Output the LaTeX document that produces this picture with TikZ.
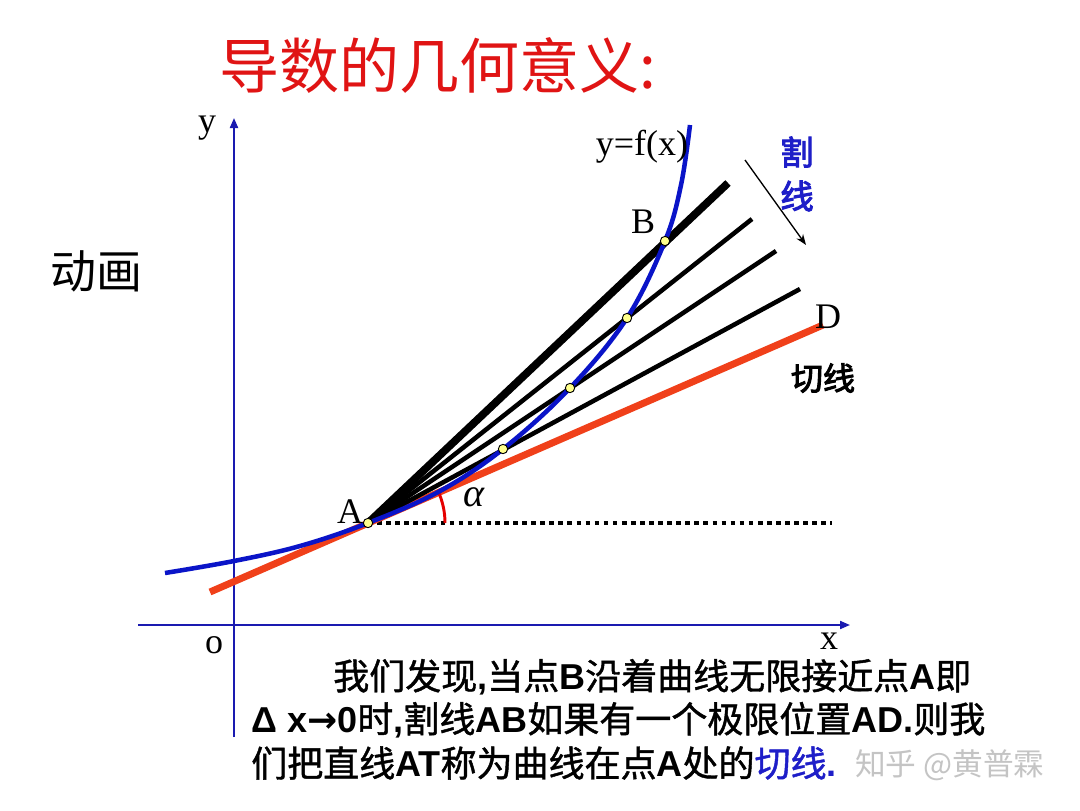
\documentclass[tikz,border=0pt]{standalone}
\usepackage{fontspec}
\setmainfont{Liberation Serif}
\newfontfamily\cjk{Noto Sans CJK SC}
\newfontfamily\hei{Noto Sans CJK SC}[FakeBold=1.2]
\newfontfamily\heib{Noto Sans CJK SC}[FakeBold=3]
\newfontfamily\arial{Liberation Sans}
\newfontfamily\dejab{DejaVu Sans}
\newcommand\en[1]{{\arial\bfseries #1}}
\usetikzlibrary{arrows.meta,calc}
\definecolor{axisblue}{HTML}{1A1AB0}
\definecolor{curveblue}{HTML}{0A14C8}
\definecolor{tanred}{HTML}{F0401A}
\definecolor{titlered}{HTML}{E01414}
\definecolor{dotyellow}{HTML}{FFFF8C}
\definecolor{wmgray}{HTML}{C4C4C4}
\definecolor{txtblue}{HTML}{1E1EC8}
\tikzset{
  axis/.style={draw=axisblue,line width=1.5pt,-{Triangle[length=7.5pt,width=6pt]}},
  secant/.style={draw=black,line width=3.4pt},
  secantB/.style={draw=black,line width=5.8pt},
  pt/.style={circle,fill=dotyellow,draw=black,line width=0.7pt,inner sep=0pt,minimum size=7pt},
  lbl/.style={font=\fontsize{27}{30}\selectfont,inner sep=0pt},
  body/.style={font=\hei\fontsize{27}{32}\selectfont,inner sep=0pt,anchor=west},
}
\begin{document}
\begin{tikzpicture}[x=0.75pt,y=-0.75pt]
\path[use as bounding box,fill=white] (0,0) rectangle (1080,810);

% title and side label
\node[font=\cjk\fontsize{45}{48}\selectfont,text=titlered,inner sep=0pt] (title) at (438,66) {导数的几何意义:};
\node[font=\cjk\fontsize{34.5}{38}\selectfont,inner sep=0pt] (anim) at (96,271) {动画};

% axes
\coordinate (ybot) at (234,737);
\coordinate (ytop) at (234,118);
\coordinate (xl) at (138,625);
\coordinate (xr) at (850,625);
\draw[axis] (ybot) -- (ytop);
\draw[axis] (xl) -- (xr);
\node[lbl] (ylab) at (207,128) {y};
\node[lbl] (xlab) at (829,641) {x};
\node[lbl] (olab) at (214,645) {o};

% key points
\coordinate (A) at (368,523);
\coordinate (P1) at (665,241);
\coordinate (P2) at (627,318);
\coordinate (P3) at (570,388);
\coordinate (P4) at (503,449);
\coordinate (E1) at (728,183);
\coordinate (E2) at (752,219);
\coordinate (E3) at (776,251);
\coordinate (E4) at (800,289);
\coordinate (T1) at (210,592);
\coordinate (D) at (823,325);
\coordinate (H) at (832,523);

% horizontal dotted line
\draw[line width=3.3pt,dash pattern=on 3.5pt off 3.3pt] (A) -- (H);

% tangent
\draw[draw=tanred,line width=5.25pt] (T1) -- (D);

% alpha arc
\draw[red!90!black,line width=2.2pt] ($(A)+(77,0)$) arc[start angle=0,end angle=23.5,radius=57.75pt];
\node[font=\itshape\fontsize{30}{32}\selectfont,inner sep=0pt] (alpha) at (474,497) {α};

% secants
\draw[secantB] (A) -- (E1);
\draw[secant] (A) -- (E2);
\draw[secant] (A) -- (E3);
\draw[secant] (A) -- (E4);

% curve
\draw[curveblue,line width=3.4pt] plot[smooth,tension=0.6] coordinates
  {(165,573) (234,561) (300,546) (368,523) (440,491) (503,449) (570,388) (627,318) (665,241) (681,185) (690,125)};

% dots
\node[pt] (dA) at (A) {};
\node[pt] (d1) at (P1) {};
\node[pt] (d2) at (P2) {};
\node[pt] (d3) at (P3) {};
\node[pt] (d4) at (P4) {};

% labels
\node[lbl] (Alab) at (350,512) {A};
\node[lbl] (Blab) at (643,222) {B};
\node[lbl] (Dlab) at (828,317) {D};
\node[lbl] (flab) at (642,147) {y=f(x)};

% secant label and arrow
\node[font=\heib\fontsize{25}{28}\selectfont,text=txtblue,inner sep=0pt] (ge) at (797,152) {割};
\node[font=\heib\fontsize{25}{28}\selectfont,text=txtblue,inner sep=0pt] (xian) at (797,196) {线};
\coordinate (ar1) at (745,160);
\coordinate (ar2) at (806,245);
\draw[line width=1pt,-{Stealth[length=8pt,width=6pt]}] (ar1) -- (ar2);
\node[font=\heib\fontsize{24}{28}\selectfont,inner sep=0pt] (qie) at (823,378) {切线};

% body text
\node[body] (l1) at (333,677) {我们发现\en{,}当点\en{B}沿着曲线无限接近点\en{A}即};
\node[body] (l2) at (251,720) {\en{Δ x}{\dejab\bfseries →}\en{0}时\en{,}割线\en{AB}如果有一个极限位置\en{AD.}则我};
\node[body] (l3) at (251,763) {们把直线\en{AT}称为曲线在点\en{A}处的\textcolor{txtblue}{切线\en{.}}};

% watermark
\node[font=\cjk\fontsize{23}{26}\selectfont,text=wmgray,inner sep=0pt,anchor=west] (wm) at (855,765) {知乎 @黄普霖};
\end{tikzpicture}
\end{document}
